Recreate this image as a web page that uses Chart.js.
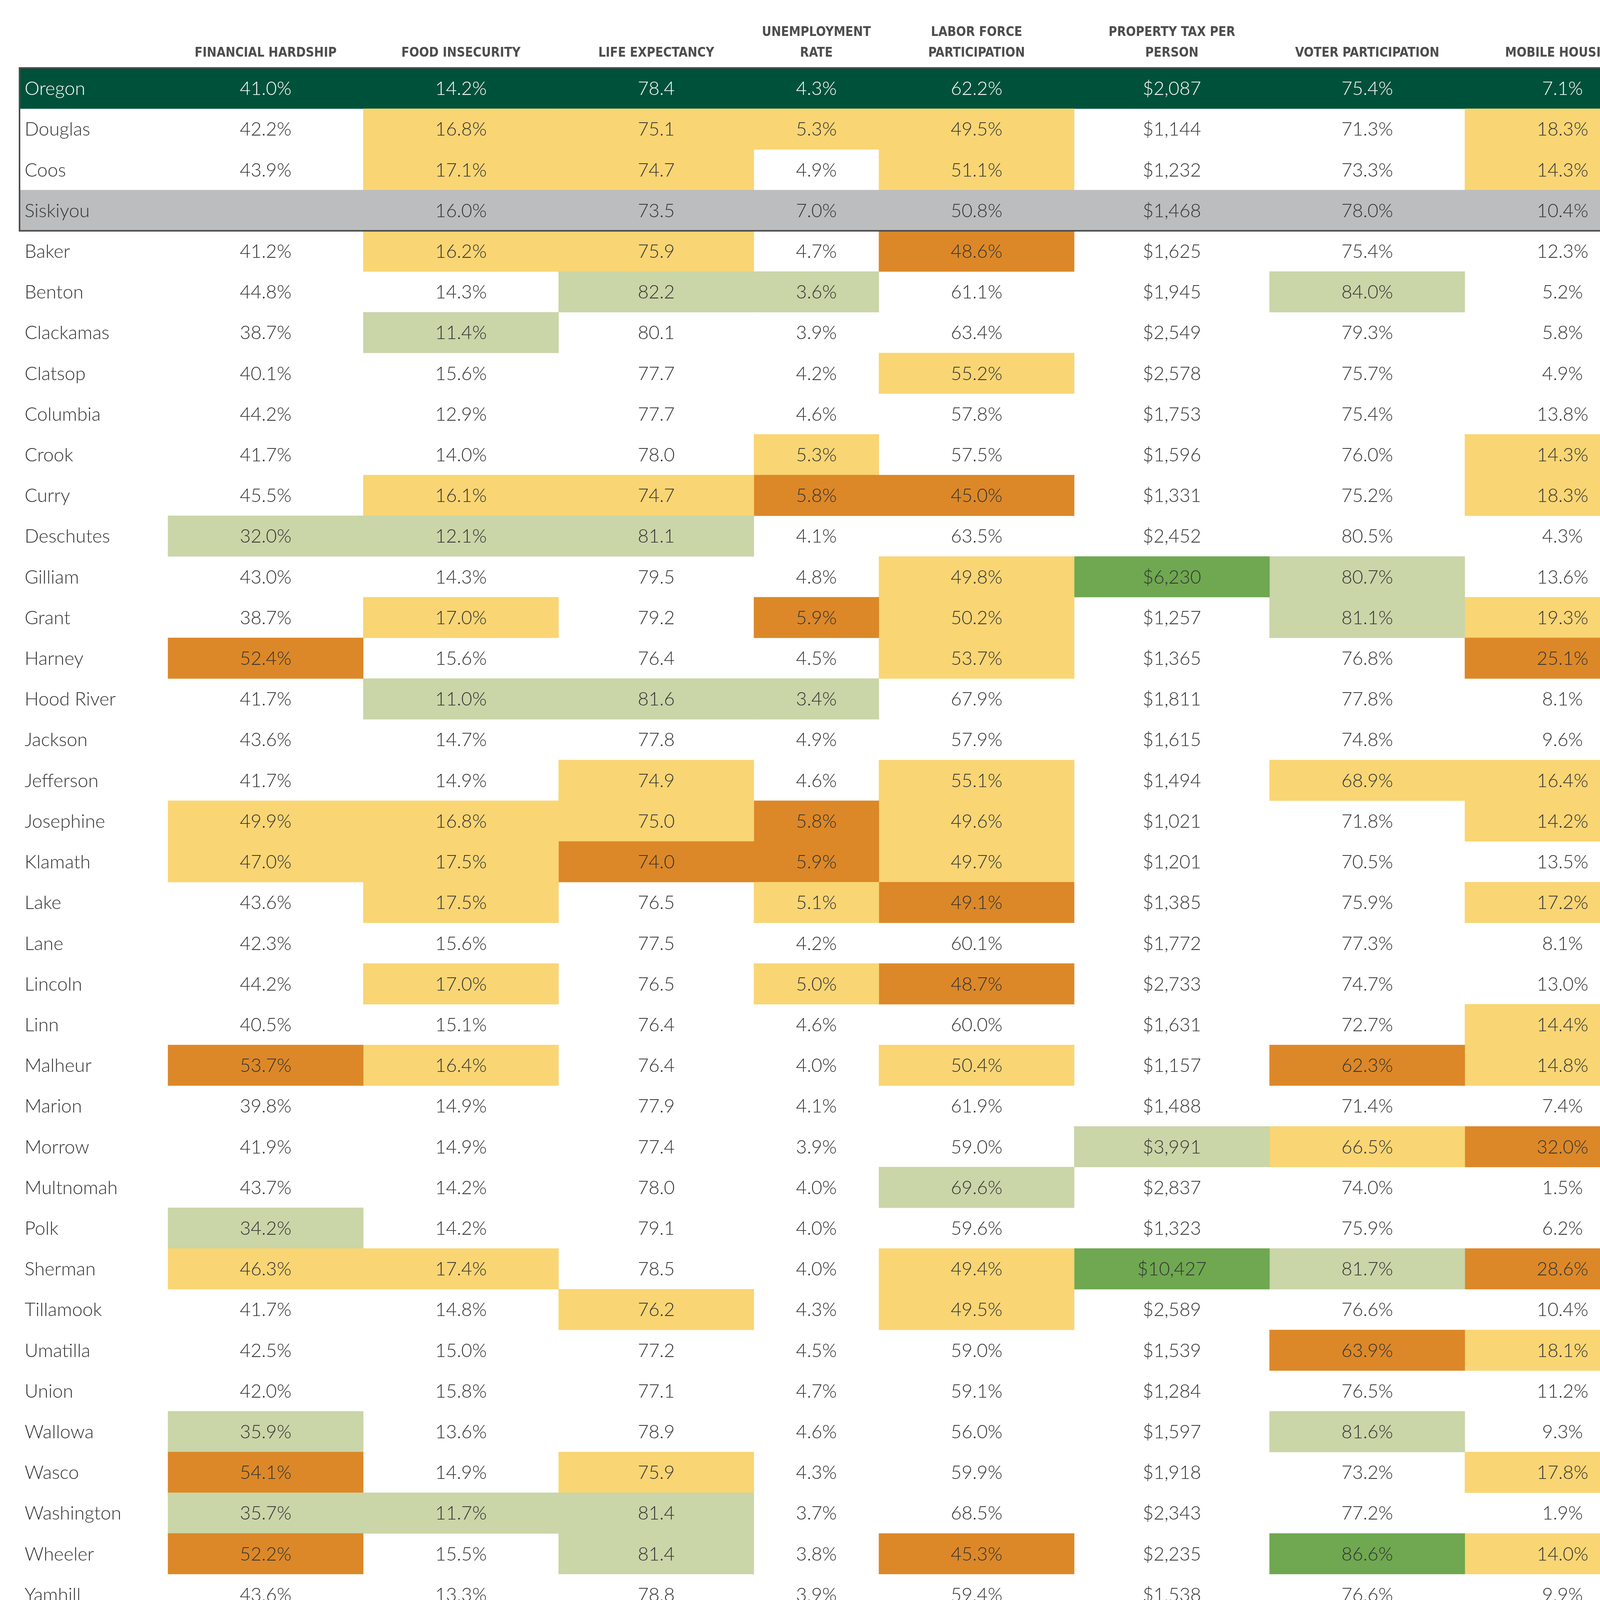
<!DOCTYPE html>
<html>
<head>
<meta charset="utf-8">
<script src="https://cdn.jsdelivr.net/npm/chart.js@4.4.1/dist/chart.umd.min.js"></script>
<style>
  html, body { margin: 0; padding: 0; background: #fff; }
  canvas { display: block; }
</style>
</head>
<body>
<canvas id="countyTable" width="4270" height="4170"></canvas>
<script>
// rows of the table
var counties = ['Oregon', 'Douglas', 'Coos', 'Siskiyou', 'Baker', 'Benton', 'Clackamas', 'Clatsop', 'Columbia', 'Crook',
  'Curry', 'Deschutes', 'Gilliam', 'Grant', 'Harney', 'Hood River', 'Jackson', 'Jefferson', 'Josephine', 'Klamath',
  'Lake', 'Lane', 'Lincoln', 'Linn', 'Malheur', 'Marion', 'Morrow', 'Multnomah', 'Polk', 'Sherman',
  'Tillamook', 'Umatilla', 'Union', 'Wallowa', 'Wasco', 'Washington', 'Wheeler', 'Yamhill'];

var headers = [['FINANCIAL HARDSHIP'], ['FOOD INSECURITY'], ['LIFE EXPECTANCY'], ['UNEMPLOYMENT', 'RATE'],
  ['LABOR FORCE', 'PARTICIPATION'], ['PROPERTY TAX PER', 'PERSON'], ['VOTER PARTICIPATION'], ['MOBILE HOUSING']];

var hardship = [41.0, 42.2, 43.9, null, 41.2, 44.8, 38.7, 40.1, 44.2, 41.7, 45.5, 32.0, 43.0, 38.7, 52.4, 41.7, 43.6, 41.7, 49.9, 47.0,
  43.6, 42.3, 44.2, 40.5, 53.7, 39.8, 41.9, 43.7, 34.2, 46.3, 41.7, 42.5, 42.0, 35.9, 54.1, 35.7, 52.2, 43.6];
var foodInsecurity = [14.2, 16.8, 17.1, 16.0, 16.2, 14.3, 11.4, 15.6, 12.9, 14.0, 16.1, 12.1, 14.3, 17.0, 15.6, 11.0, 14.7, 14.9, 16.8, 17.5,
  17.5, 15.6, 17.0, 15.1, 16.4, 14.9, 14.9, 14.2, 14.2, 17.4, 14.8, 15.0, 15.8, 13.6, 14.9, 11.7, 15.5, 13.3];
var lifeExpectancy = [78.4, 75.1, 74.7, 73.5, 75.9, 82.2, 80.1, 77.7, 77.7, 78.0, 74.7, 81.1, 79.5, 79.2, 76.4, 81.6, 77.8, 74.9, 75.0, 74.0,
  76.5, 77.5, 76.5, 76.4, 76.4, 77.9, 77.4, 78.0, 79.1, 78.5, 76.2, 77.2, 77.1, 78.9, 75.9, 81.4, 81.4, 78.8];
var unemployment = [4.3, 5.3, 4.9, 7.0, 4.7, 3.6, 3.9, 4.2, 4.6, 5.3, 5.8, 4.1, 4.8, 5.9, 4.5, 3.4, 4.9, 4.6, 5.8, 5.9,
  5.1, 4.2, 5.0, 4.6, 4.0, 4.1, 3.9, 4.0, 4.0, 4.0, 4.3, 4.5, 4.7, 4.6, 4.3, 3.7, 3.8, 3.9];
var laborForce = [62.2, 49.5, 51.1, 50.8, 48.6, 61.1, 63.4, 55.2, 57.8, 57.5, 45.0, 63.5, 49.8, 50.2, 53.7, 67.9, 57.9, 55.1, 49.6, 49.7,
  49.1, 60.1, 48.7, 60.0, 50.4, 61.9, 59.0, 69.6, 59.6, 49.4, 49.5, 59.0, 59.1, 56.0, 59.9, 68.5, 45.3, 59.4];
var propertyTax = [2087, 1144, 1232, 1468, 1625, 1945, 2549, 2578, 1753, 1596, 1331, 2452, 6230, 1257, 1365, 1811, 1615, 1494, 1021, 1201,
  1385, 1772, 2733, 1631, 1157, 1488, 3991, 2837, 1323, 10427, 2589, 1539, 1284, 1597, 1918, 2343, 2235, 1538];
var voterTurnout = [75.4, 71.3, 73.3, 78.0, 75.4, 84.0, 79.3, 75.7, 75.4, 76.0, 75.2, 80.5, 80.7, 81.1, 76.8, 77.8, 74.8, 68.9, 71.8, 70.5,
  75.9, 77.3, 74.7, 72.7, 62.3, 71.4, 66.5, 74.0, 75.9, 81.7, 76.6, 63.9, 76.5, 81.6, 73.2, 77.2, 86.6, 76.6];
var mobileHousing = [7.1, 18.3, 14.3, 10.4, 12.3, 5.2, 5.8, 4.9, 13.8, 14.3, 18.3, 4.3, 13.6, 19.3, 25.1, 8.1, 9.6, 16.4, 14.2, 13.5,
  17.2, 8.1, 13.0, 14.4, 14.8, 7.4, 32.0, 1.5, 6.2, 28.6, 10.4, 18.1, 11.2, 9.3, 17.8, 1.9, 14.0, 9.9];

// cell shading per column, one letter per row: n none, y worse, o much worse, g better, G much better
var hardshipRating   = '-nn-' + 'nnnnnnn' + 'gnno' + 'nnnyy' + 'nnnno' + 'nnng' + 'ynnn' + 'gogon';
var foodRating       = '-yy-' + 'yngnnny' + 'gnyn' + 'gnnyy' + 'ynyny' + 'nnnn' + 'ynnn' + 'nngnn';
var lifeRating       = '-yy-' + 'ygnnnny' + 'gnnn' + 'gnyyo' + 'nnnnn' + 'nnnn' + 'nynn' + 'nyggn';
var unemploymentRating = '-yn-' + 'ngnnnyo' + 'nnon' + 'gnnoo' + 'ynynn' + 'nnnn' + 'nnnn' + 'nnnnn';
var laborRating      = '-yy-' + 'onnynno' + 'nyyy' + 'nnyyy' + 'onony' + 'nngn' + 'yynn' + 'nnnon';
var propertyRating   = '-nn-' + 'nnnnnnn' + 'nGnn' + 'nnnnn' + 'nnnnn' + 'ngnn' + 'Gnnn' + 'nnnnn';
var voterRating      = '-nn-' + 'ngnnnnn' + 'nggn' + 'nnynn' + 'nnnno' + 'nynn' + 'gnon' + 'gnnGn';
var mobileRating     = '-yy-' + 'nnnnnyy' + 'nnyo' + 'nnyyn' + 'ynnyy' + 'nonn' + 'onyn' + 'nynyn';

var stateRow = 'Oregon';
var compareRow = 'Siskiyou';

// layout and styles
var colWidths = [380, 500, 500, 500, 320, 500, 500, 500, 500];
var shade = { n: 'rgba(0,0,0,0)', y: '#F9D574', o: '#DC8828', g: '#CAD5A8', G: '#6FA850', '-': 'rgba(0,0,0,0)' };
var stateFill = '#00513A';
var compareFill = '#BCBDBF';
var textColor = '#333333';
var headColor = '#4d4d4d';
var valueFont = '300 48px Lato, "Open Sans", sans-serif';
var headFont = 'bold 33px "Liberation Sans Narrow", "DejaVu Sans Condensed", sans-serif';

var series = [hardship, foodInsecurity, lifeExpectancy, unemployment, laborForce, propertyTax, voterTurnout, mobileHousing];
var ratings = [hardshipRating, foodRating, lifeRating, unemploymentRating, laborRating, propertyRating, voterRating, mobileRating];
var formats = ['pct', 'pct', 'num', 'pct', 'pct', 'usd', 'pct', 'pct'];

function formatValue(v, kind) {
  if (v === null || v === undefined) return '';
  if (kind === 'pct') return v.toFixed(1) + '%';
  if (kind === 'usd') return '$' + v.toLocaleString('en-US');
  return v.toFixed(1);
}

var edges = [0];
colWidths.forEach(function (w, i) { edges.push(edges[i] + w); });

var stateIdx = counties.indexOf(stateRow);
var compareIdx = counties.indexOf(compareRow);

function cellFill(col, row) {
  if (row === stateIdx) return stateFill;
  if (row === compareIdx) return compareFill;
  if (col === 0) return 'rgba(0,0,0,0)';
  return shade[ratings[col - 1].charAt(row)];
}

var datasets = colWidths.map(function (w, c) {
  return {
    label: c === 0 ? 'County' : headers[c - 1].join(' '),
    data: counties.map(function () { return [edges[c], edges[c + 1]]; }),
    backgroundColor: counties.map(function (name, r) { return cellFill(c, r); }),
    borderWidth: 0,
    barPercentage: 1,
    categoryPercentage: 1,
    grouped: false
  };
});

var tableText = {
  id: 'tableText',
  afterDatasetsDraw: function (chart) {
    var ctx = chart.ctx;
    var xs = chart.scales.x;
    var bars = chart.getDatasetMeta(0).data;
    var rowH = bars[0].height;
    ctx.save();

    // frame around the state and comparison rows
    var boxTop = bars[stateIdx].y - rowH / 2;
    var boxBottom = bars[compareIdx].y + rowH / 2;
    ctx.strokeStyle = '#4b4b4b';
    ctx.lineWidth = 4;
    ctx.strokeRect(xs.left, boxTop, xs.right - xs.left, boxBottom - boxTop);

    // column headers
    ctx.font = headFont;
    ctx.fillStyle = headColor;
    ctx.textAlign = 'center';
    ctx.textBaseline = 'alphabetic';
    headers.forEach(function (lines, i) {
      var cx = xs.getPixelForValue((edges[i + 1] + edges[i + 2]) / 2);
      var base = chart.chartArea.top - 29;
      for (var k = lines.length - 1; k >= 0; k--) {
        ctx.fillText(lines[k], cx, base);
        base -= 53;
      }
    });

    // cell texts
    ctx.font = valueFont;
    counties.forEach(function (name, r) {
      var cy = bars[r].y + 17;
      ctx.fillStyle = r === stateIdx ? '#ffffff' : textColor;
      ctx.textAlign = 'left';
      ctx.fillText(name, xs.getPixelForValue(edges[0]) + 13, cy);
      ctx.textAlign = 'center';
      series.forEach(function (vals, c) {
        var cx = xs.getPixelForValue((edges[c + 1] + edges[c + 2]) / 2);
        ctx.fillText(formatValue(vals[r], formats[c]), cx, cy);
      });
    });
    ctx.restore();
  }
};

new Chart(document.getElementById('countyTable'), {
  type: 'bar',
  data: { labels: counties, datasets: datasets },
  options: {
    indexAxis: 'y',
    responsive: false,
    devicePixelRatio: 1,
    animation: false,
    layout: { padding: { left: 50, right: 20, top: 174, bottom: 36 } },
    scales: {
      x: { type: 'linear', min: 0, max: edges[edges.length - 1], display: false },
      y: { display: false }
    },
    plugins: { legend: { display: false }, tooltip: { enabled: false } }
  },
  plugins: [tableText]
});
</script>
</body>
</html>
